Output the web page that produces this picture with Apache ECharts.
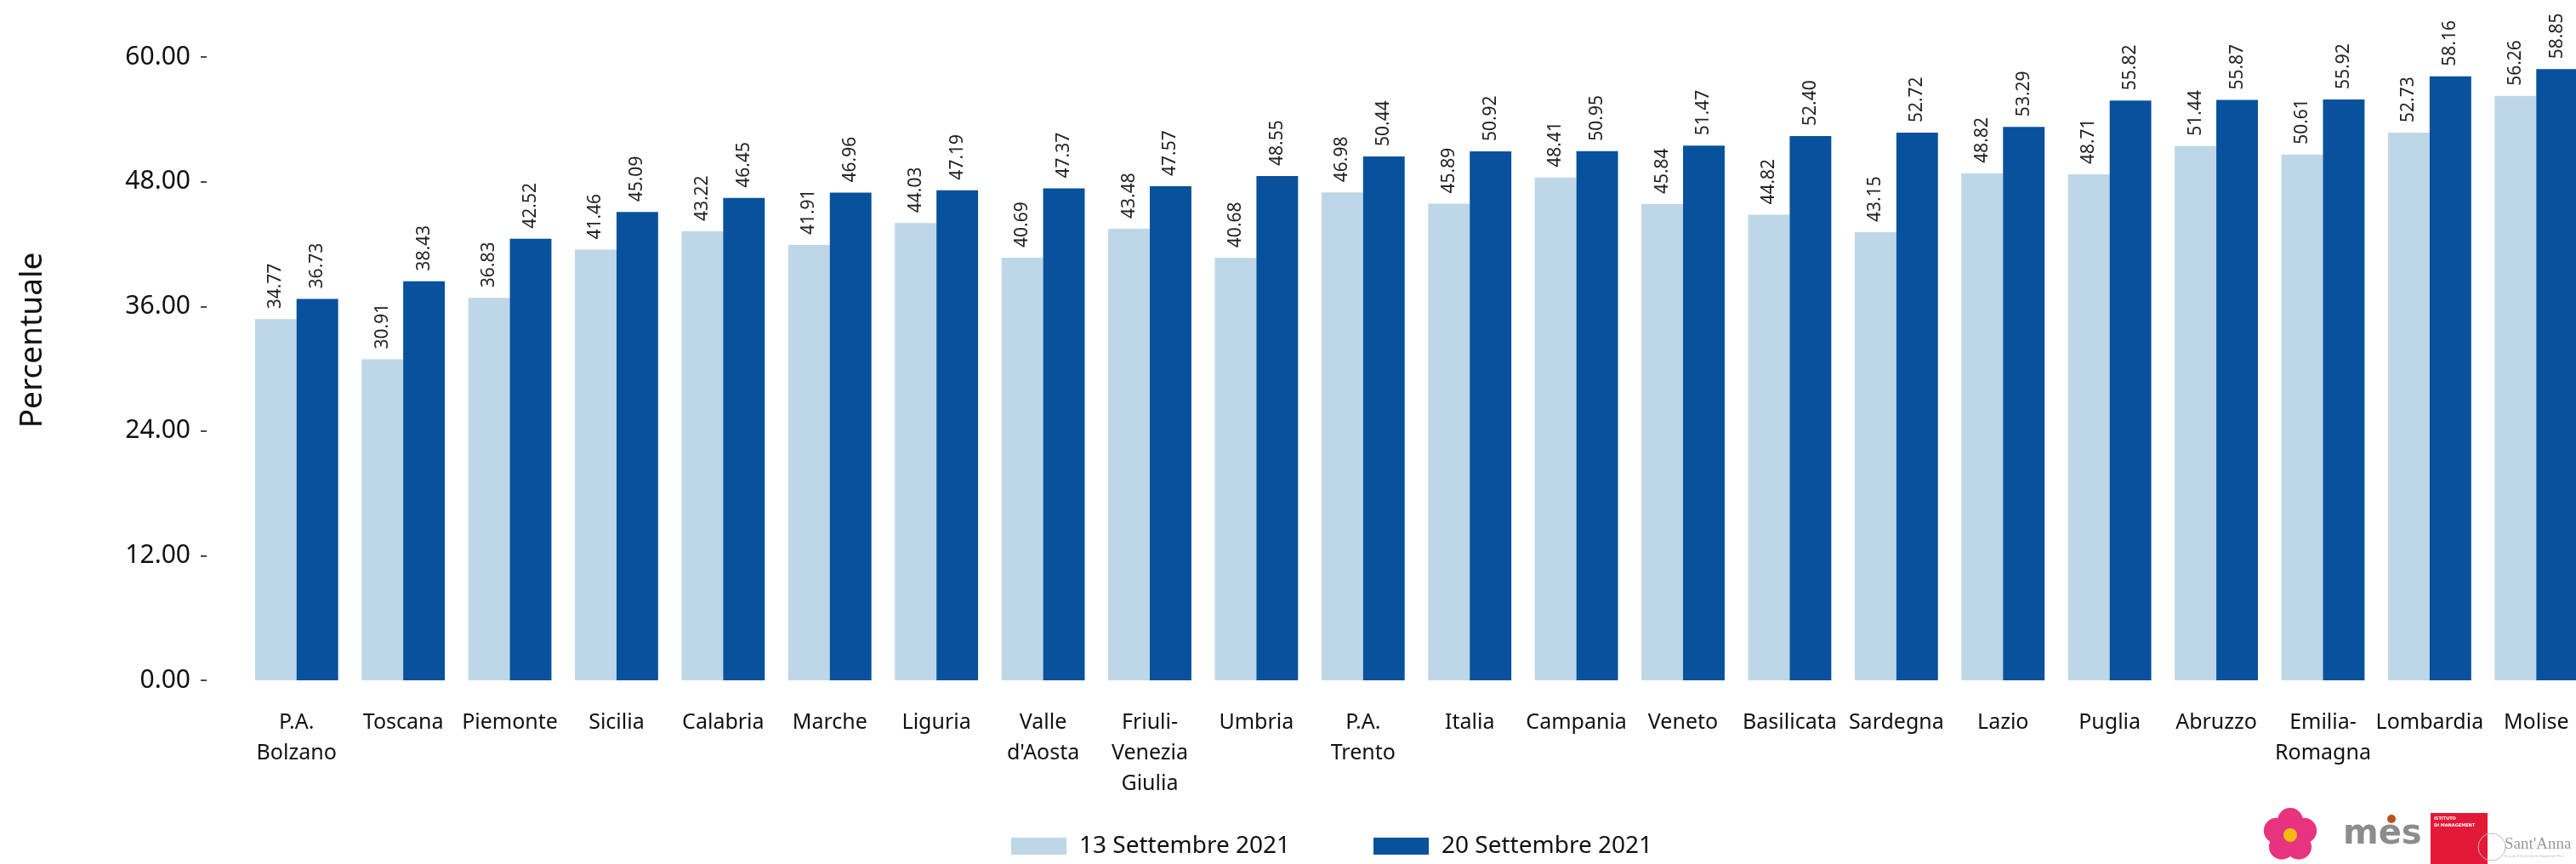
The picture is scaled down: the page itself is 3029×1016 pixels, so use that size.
<!DOCTYPE html>
<html>
<head>
<meta charset="utf-8">
<title>Percentuale per regione</title>
<script src="https://cdn.jsdelivr.net/npm/echarts@6/dist/echarts.min.js"></script>
<style>
  html, body { margin: 0; padding: 0; background: #fff; }
  #chart { width: 3029px; height: 1016px; }
</style>
</head>
<body>
<div id="chart"></div>
<script>
// dati
const regioni = [
  'P.A.\nBolzano', 'Toscana', 'Piemonte', 'Sicilia', 'Calabria', 'Marche', 'Liguria',
  "Valle\nd'Aosta", 'Friuli-\nVenezia\nGiulia', 'Umbria', 'P.A.\nTrento', 'Italia',
  'Campania', 'Veneto', 'Basilicata', 'Sardegna', 'Lazio', 'Puglia', 'Abruzzo',
  'Emilia-\nRomagna', 'Lombardia', 'Molise'
]
const sett13 = [34.77, 30.91, 36.83, 41.46, 43.22, 41.91, 44.03, 40.69, 43.48, 40.68, 46.98,
  45.89, 48.41, 45.84, 44.82, 43.15, 48.82, 48.71, 51.44, 50.61, 52.73, 56.26]
const sett20 = [36.73, 38.43, 42.52, 45.09, 46.45, 46.96, 47.19, 47.37, 47.57, 48.55, 50.44,
  50.92, 50.95, 51.47, 52.40, 52.72, 53.29, 55.82, 55.87, 55.92, 58.16, 58.85]
const serieNomi = ['13 Settembre 2021', '20 Settembre 2021']

const font = '"Noto Sans", "Open Sans", sans-serif'

const chart = echarts.init(document.getElementById('chart'))

const barLabel = {
  show: true,
  position: 'top',
  rotate: 90,
  align: 'left',
  verticalAlign: 'middle',
  distance: 12,
  fontFamily: font,
  fontSize: 21,
  color: '#222',
  formatter: (p) => p.value.toFixed(2)
}

// petali del fiore (logo)
const petals = []
for (let i = 0; i < 5; i++) {
  const a = -Math.PI / 2 + i * 2 * Math.PI / 5
  petals.push({
    type: 'circle',
    shape: { cx: 2693 + Math.cos(a) * 17, cy: 982 + Math.sin(a) * 17, r: 15 },
    style: { fill: '#E8337F' }
  })
}

const option = {
  animation: false,
  color: ['#BDD7E7', '#08519C'],
  textStyle: { fontFamily: font },
  grid: {
    left: 286,
    width: 2759,
    top: 0,
    bottom: 216,
    outerBoundsMode: 'none'
  },
  legend: {
    left: 1184,
    bottom: 2,
    itemWidth: 65,
    itemHeight: 20,
    itemGap: 98,
    icon: 'rect',
    textStyle: {
      fontFamily: font,
      fontSize: 28,
      color: '#111',
      padding: [0, 0, 0, 10]
    },
    data: serieNomi
  },
  xAxis: {
    type: 'category',
    data: regioni,
    axisLine: { show: false },
    axisTick: { show: false },
    axisLabel: {
      interval: 0,
      margin: 32,
      fontFamily: font,
      fontSize: 25,
      lineHeight: 36,
      color: '#111',
      verticalAlign: 'top'
    }
  },
  yAxis: {
    type: 'value',
    min: 0,
    max: 65.5,
    interval: 12,
    offset: 43,
    name: 'Percentuale',
    nameLocation: 'middle',
    nameGap: 186,
    nameTextStyle: {
      fontFamily: font,
      fontSize: 37,
      color: '#111'
    },
    axisLine: { show: false },
    axisTick: { show: true, length: 7, lineStyle: { color: '#111', width: 1.5 } },
    splitLine: { show: false },
    axisLabel: {
      showMaxLabel: false,
      margin: 19,
      fontFamily: font,
      fontSize: 30,
      color: '#111',
      formatter: (v) => v.toFixed(2)
    }
  },
  series: [
    {
      name: serieNomi[0],
      type: 'bar',
      data: sett13,
      barGap: '0%',
      barCategoryGap: '22%',
      label: barLabel
    },
    {
      name: serieNomi[1],
      type: 'bar',
      data: sett20,
      barGap: '0%',
      barCategoryGap: '22%',
      label: barLabel
    }
  ],
  graphic: [
    ...petals,
    { type: 'circle', shape: { cx: 2693, cy: 982, r: 8 }, style: { fill: '#F9B90F' } },
    {
      type: 'text', left: 2755, top: 962,
      style: { text: 'mes', fill: '#8C8C8C', font: 'bold 40px "DejaVu Sans", sans-serif' }
    },
    { type: 'circle', shape: { cx: 2812, cy: 963, r: 5 }, style: { fill: '#B5541F' } },
    { type: 'rect', shape: { x: 2858, y: 956, width: 67, height: 60 }, style: { fill: '#E31937' } },
    {
      type: 'text', left: 2862, top: 959,
      style: { text: 'ISTITUTO\nDI MANAGEMENT', fill: '#fff', font: 'bold 5px "DejaVu Sans", sans-serif', lineHeight: 8 }
    },
    { type: 'circle', shape: { cx: 2930, cy: 996, r: 16 }, style: { fill: 'none', stroke: '#bbb', lineWidth: 1 } },
    {
      type: 'text', left: 2945, top: 984,
      style: { text: "Sant'Anna", fill: '#999', font: '19px "Liberation Serif", serif' }
    },
    {
      type: 'text', left: 2945, top: 1005,
      style: { text: 'Scuola Universitaria Superiore Pisa', fill: '#bbb', font: '4px "DejaVu Sans", sans-serif' }
    }
  ]
}

chart.setOption(option)
</script>
</body>
</html>
